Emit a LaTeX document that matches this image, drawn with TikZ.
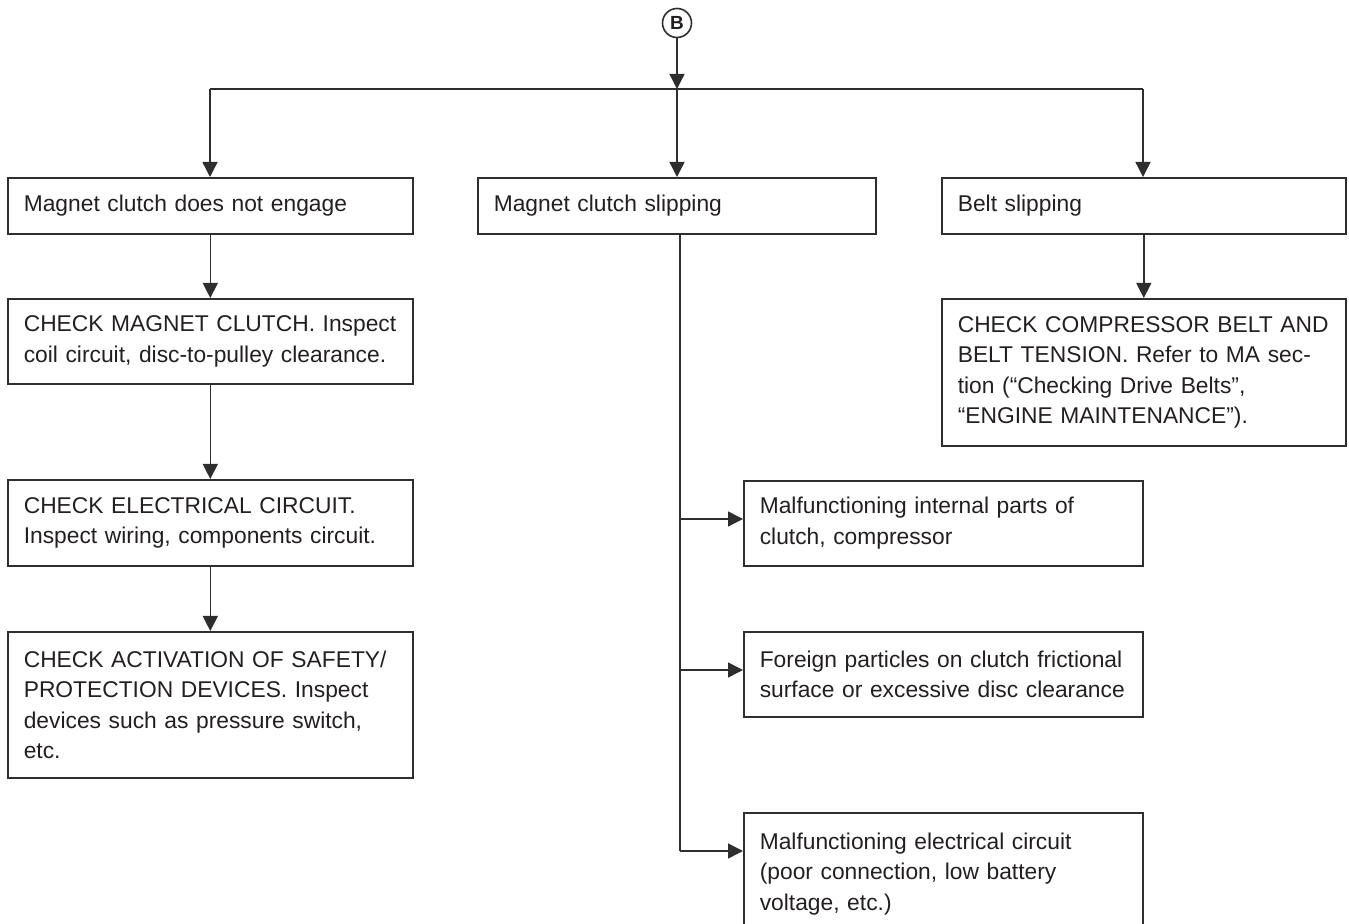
\documentclass[tikz,border=0pt]{standalone}
\usepackage{fontspec}
\setmainfont{Liberation Sans}
\usetikzlibrary{arrows.meta,calc}
\definecolor{ink}{HTML}{231F20}
\definecolor{rule}{HTML}{2E2E2E}
\tikzset{
  box/.style={draw=rule, line width=0.8pt, anchor=north west, align=left,
    inner xsep=8pt, inner ysep=0pt, text=ink,
    font=\fontsize{11.4pt}{15.2pt}\selectfont},
  conn/.style={draw=rule, line width=0.7pt},
  arr/.style={conn, -{Triangle[width=7.5pt,length=7.5pt]}},
}
\newcommand{\tline}[1]{\mbox{#1}}
\begin{document}
\begin{tikzpicture}[x=0.5pt,y=-0.5pt]
\useasboundingbox (0,0) rectangle (1349,924);
\clip (0,0) rectangle (1349,924);

\node[draw=rule, line width=0.8pt, circle, minimum size=14.5pt, inner sep=0pt,
      text=ink, font=\fontsize{9.5pt}{10pt}\selectfont\bfseries] (B) at (677,23) {B};

% left column
\node[box, text width=186.5pt, minimum height=28pt] (b1) at (7,177)
  {\tline{Magnet clutch does not engage}};
\node[box, text width=186.5pt, minimum height=42.5pt] (b2) at (7,298)
  {\tline{CHECK MAGNET CLUTCH. Inspect}\\\tline{coil circuit, disc-to-pulley clearance.}};
\node[box, text width=186.5pt, minimum height=43pt] (b3) at (7,479)
  {\tline{CHECK ELECTRICAL CIRCUIT.}\\\tline{Inspect wiring, components circuit.}};
\node[box, text width=186.5pt, minimum height=73pt] (b4) at (7,631)
  {\tline{CHECK ACTIVATION OF SAFETY/}\\\tline{PROTECTION DEVICES. Inspect}\\\tline{devices such as pressure switch,}\\\tline{etc.}};

% middle column
\node[box, text width=183pt, minimum height=28pt] (m1) at (477,177)
  {\tline{Magnet clutch slipping}};
\node[box, text width=183.5pt, minimum height=42.5pt] (m2) at (743,480)
  {\tline{Malfunctioning internal parts of}\\\tline{clutch, compressor}};
\node[box, text width=183.5pt, minimum height=42.5pt] (m3) at (743,631)
  {\tline{Foreign particles on clutch frictional}\\\tline{surface or excessive disc clearance}};
\node[box, text width=183.5pt, minimum height=61pt] (m4) at (743,812)
  {\tline{Malfunctioning electrical circuit}\\\tline{(poor connection, low battery}\\\tline{voltage, etc.)}};

% right column
\node[box, text width=186pt, minimum height=28pt] (r1) at (941,177)
  {\tline{Belt slipping}};
\node[box, text width=186pt, minimum height=73.5pt] (r2) at (941,298)
  {\tline{CHECK COMPRESSOR BELT AND}\\\tline{BELT TENSION. Refer to MA sec-}\\\tline{tion (“Checking Drive Belts”,}\\\tline{“ENGINE MAINTENANCE”).}};

% connectors
\coordinate (busL) at (210,89);
\coordinate (busM) at (677,89);
\coordinate (busR) at (1143,89);
\draw[arr] (B.south) -- (busM);
\draw[conn] (busL) -- (busR);
\draw[arr] (busL) -- (busL |- b1.north);
\draw[arr] (busM) -- (busM |- m1.north);
\draw[arr] (busR) -- (busR |- r1.north);

\draw[arr] (b1.south) -- (b2.north);
\draw[arr] (b2.south) -- (b3.north);
\draw[arr] (b3.south) -- (b4.north);
\draw[arr] (r1.south) -- (r2.north);

\coordinate (vx) at (680,0);
\coordinate (a2) at ($(m2.north west)+(0,39)$);
\coordinate (a3) at ($(m3.north west)+(0,39)$);
\coordinate (a4) at ($(m4.north west)+(0,39)$);
\draw[conn] (vx |- m1.south) -- (vx |- a4);
\draw[arr] (vx |- a2) -- (a2);
\draw[arr] (vx |- a3) -- (a3);
\draw[arr] (vx |- a4) -- (a4);
\end{tikzpicture}
\end{document}
